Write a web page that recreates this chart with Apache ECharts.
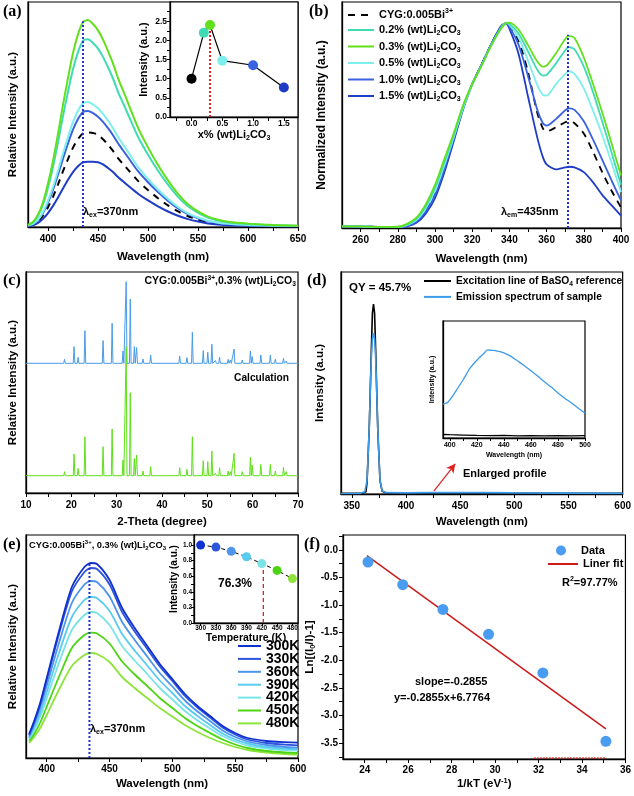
<!DOCTYPE html>
<html><head><meta charset="utf-8">
<script src="https://cdn.jsdelivr.net/npm/echarts@6/dist/echarts.min.js"></script>
<style>html,body{margin:0;padding:0;background:#fff}#c{width:634px;height:796px}</style>
</head><body><div id="c"></div>
<script>
// ---------- (a) emission vs Li2CO3 content ----------
const A_WL = [380,385,390,395,400,405,410,415,420,425,430,435,440,445,450,455,460,465,470,475,480,490,500,510,520,530,540,550,560,570,580,600,625,650];
const A_03 = [0.009,0.023,0.055,0.11,0.193,0.294,0.414,0.543,0.662,0.773,0.856,0.911,0.92,0.902,0.874,0.833,0.782,0.727,0.662,0.607,0.552,0.442,0.354,0.276,0.207,0.147,0.101,0.069,0.046,0.032,0.023,0.015,0.009,0.006];
const A_02 = [0.008,0.021,0.05,0.1,0.175,0.267,0.376,0.493,0.601,0.701,0.777,0.827,0.835,0.818,0.793,0.756,0.71,0.66,0.601,0.551,0.501,0.401,0.321,0.25,0.188,0.134,0.092,0.063,0.042,0.029,0.021,0.013,0.008,0.006];
const A_05 = [0.006,0.014,0.033,0.067,0.117,0.178,0.25,0.328,0.4,0.467,0.517,0.55,0.556,0.545,0.528,0.503,0.473,0.439,0.4,0.367,0.334,0.267,0.214,0.167,0.125,0.089,0.061,0.042,0.028,0.019,0.014,0.009,0.006,0.004];
const A_10 = [0.005,0.013,0.031,0.062,0.108,0.165,0.232,0.304,0.372,0.433,0.48,0.511,0.516,0.506,0.49,0.467,0.439,0.408,0.372,0.341,0.31,0.248,0.199,0.155,0.116,0.083,0.057,0.039,0.026,0.018,0.013,0.008,0.005,0.004];
const A_00 = [0.004,0.011,0.025,0.05,0.088,0.134,0.189,0.248,0.302,0.353,0.391,0.416,0.42,0.418,0.41,0.39,0.366,0.338,0.306,0.28,0.255,0.205,0.164,0.128,0.096,0.069,0.048,0.033,0.022,0.016,0.012,0.008,0.005,0.004];
const A_15 = [0.003,0.008,0.018,0.036,0.062,0.094,0.131,0.171,0.21,0.244,0.27,0.287,0.29,0.29,0.288,0.278,0.262,0.244,0.222,0.203,0.184,0.148,0.118,0.092,0.069,0.05,0.035,0.024,0.016,0.011,0.008,0.006,0.004,0.003];
const A_EX_LINE = [435, 0.915];
const A_IN_X = [0, 0.2, 0.3, 0.5, 1.0, 1.5];
const A_IN_Y = [1.0, 2.2, 2.4, 1.47, 1.35, 0.77];
const A_IN_OPT = [0.3, 2.4];

// ---------- (b) normalized excitation ----------
const B_WL = [250,260,270,280,285,290,295,300,305,310,315,320,325,330,335,338,340,345,350,355,358,360,365,370,372,375,380,385,390,395,400];
const B_00 = [0.008,0.007,0.005,0.004,0.01,0.035,0.09,0.17,0.29,0.435,0.58,0.70,0.795,0.89,0.975,0.998,0.985,0.91,0.76,0.56,0.485,0.47,0.49,0.515,0.52,0.51,0.46,0.37,0.27,0.18,0.10];
const B_02 = [0.008,0.008,0.005,0.005,0.017,0.045,0.105,0.195,0.32,0.45,0.59,0.70,0.79,0.885,0.965,0.998,0.995,0.945,0.86,0.77,0.742,0.745,0.80,0.865,0.88,0.87,0.785,0.66,0.515,0.365,0.21];
const B_03 = [0.008,0.008,0.005,0.006,0.02,0.05,0.115,0.21,0.335,0.46,0.595,0.70,0.79,0.885,0.965,0.995,1.0,0.965,0.89,0.81,0.785,0.79,0.85,0.92,0.935,0.925,0.83,0.70,0.56,0.41,0.255];
const B_05 = [0.008,0.007,0.005,0.005,0.014,0.038,0.095,0.18,0.305,0.44,0.58,0.695,0.79,0.885,0.965,1.0,0.99,0.925,0.815,0.695,0.648,0.645,0.70,0.75,0.763,0.75,0.68,0.57,0.45,0.315,0.175];
const B_10 = [0.008,0.007,0.005,0.004,0.01,0.03,0.08,0.16,0.285,0.43,0.58,0.70,0.795,0.89,0.975,0.997,0.98,0.89,0.74,0.575,0.51,0.498,0.53,0.573,0.582,0.575,0.52,0.43,0.33,0.23,0.134];
const B_15 = [0.008,0.007,0.005,0.004,0.008,0.025,0.07,0.145,0.27,0.42,0.575,0.70,0.795,0.89,0.975,0.997,0.97,0.845,0.64,0.44,0.345,0.31,0.285,0.295,0.298,0.295,0.272,0.222,0.16,0.11,0.06];
const B_EM_LINE = [371.5, 0.94];
const B_NAMES = ['CYG:0.005Bi3+','0.2% (wt)Li2CO3','0.3% (wt)Li2CO3','0.5% (wt)Li2CO3','1.0% (wt)Li2CO3','1.5% (wt)Li2CO3'];

// ---------- (c) XRD ----------
const C_POS  = [18.5,20.6,21.5,23.0,27.0,29.0,31.4,32.1,33.0,33.9,34.4,35.8,37.5,41.7,43.9,45.5,46.7,49.1,50.1,51.0,51.8,52.7,54.6,55.1,55.9,57.7,59.5,59.9,61.8,63.9,65.0,66.8,67.4,68.9];
const C_EXP  = [4,16.7,6,32.7,22.7,40,12.3,81.7,64.3,16.7,15.7,4.3,8.3,1.7,7.3,5.7,31,12.7,11,19,2.7,6,4,3.3,14.3,3.3,12.3,6.7,8.3,8.3,4,5,2.3,1.7];
const C_CALC = [4,21.7,7.3,39,29,46.7,15.7,129,83,17.3,20.7,4.7,9,1.3,8,6.3,39,15,14,24.7,2.3,8,4.7,4,22.3,4,18.3,10.7,11.3,11.3,4.7,8.3,4,1.7];
const C_OFFSET_EXP = 129.7, C_OFFSET_CALC = 17.3;

// ---------- (d) quantum yield ----------
const D_WL_EX = [340,360,363,364,366,367,368,369,370,371,372,373,374,376,378,382,600];
const D_EX    = [0.003,0.004,0.01,0.05,0.285,0.46,0.65,0.815,0.855,0.815,0.65,0.46,0.285,0.06,0.012,0.004,0.003];
const D_WL_EM = [340,358,362,364,366,367,368,369,370,371,372,373,374,376,378,382,400,420,440,470,500,600];
const D_EM    = [0.002,0.003,0.01,0.06,0.285,0.46,0.61,0.70,0.724,0.70,0.61,0.46,0.285,0.06,0.015,0.006,0.005,0.006,0.007,0.006,0.005,0.003];
const D_IN_WL = [395,398,400,405,410,415,420,425,428,430,435,440,445,450,455,460,465,470,475,480,485,490,495,500];
const D_IN_EM = [0.29,0.30,0.325,0.41,0.5,0.597,0.665,0.72,0.753,0.75,0.743,0.728,0.7,0.66,0.62,0.575,0.53,0.48,0.435,0.385,0.34,0.3,0.255,0.213];
const D_IN_EX_WL = [395,400,410,420,430,440,450,460,470,480,490,500];
const D_IN_EX = [0.03,0.028,0.025,0.022,0.02,0.022,0.018,0.02,0.018,0.02,0.018,0.02];
const D_ARROW = [[425.7,0.013],[445.5,0.136]];

// ---------- (e) temperature dependence ----------
const E_WL  = [386,390,395,400,410,420,430,435,440,450,460,470,480,490,500,510,520,530,540,550,560,575,590,600];
const E_300 = [24,37,56,80,128,171,191,195,194,178,150,130,112,94,79,64,52,42,32,25,20,17,15.8,15.3];
const E_330 = [23,36,54.5,78,125,166.5,186,190,189,173.5,146,126.5,109,91.5,77,62,50.5,40.5,30.5,23.5,18.5,15,13.3,12.7];
const E_360 = [21.5,33.5,51,72.5,116,155,173.5,177,176,161.5,136,118,101.5,85,71.5,57.5,46.5,37,27.5,21,16.5,13,11,10.3];
const E_390 = [20,30.5,46,66,106,141,158,161,160,147,124,107.5,92.5,77.5,65,52,42,33,24.5,18.5,14.5,11,9.3,8.7];
const E_420 = [19,28,42,60,96,128,143,146,145,133,112,97.5,84,70,58.5,47,37.5,29.5,22,16.5,12.5,9.5,8,7.7];
const E_450 = [17,24,36,51.5,82,110,123,125.3,124.5,114.5,96.5,83.5,72,60,50,40,32,25,18.5,13.5,10,7,5.5,5];
const E_480 = [15,21,30.5,43,69,92,103,105,104,96,81,70,60,50,41.5,33,26,20,15,11,8,5.5,4,3.3];
const E_EX_LINE = [434, 196];
const E_T = [300,330,360,390,420,450,480];
const E_I = [1.0,0.975,0.92,0.85,0.763,0.675,0.57];
const E_MARK = [423, 0.763];

// ---------- (f) Arrhenius fit ----------
const F_X = [24.15,25.75,27.6,29.7,32.2,35.1];
const F_Y = [-0.22,-0.63,-1.08,-1.53,-2.23,-3.47];
const FIT_X = [24.1,35.1];
const FIT_Y = [-0.105,-3.245];
const F_DROP_X = [31.8,35.1];
const F_DROP_Y = [-3.77,-3.77];

// ---------- tick label values ----------
const T = {
  aX:[400,450,500,550,600,650], aXt:[400,425,450,475,500,525,550,575,600,625,650],
  aiX:[0,0.5,1,1.5], aiXt:[-0.25,0,0.25,0.5,0.75,1,1.25,1.5], aiY:[0,0.5,1,1.5,2,2.5], aiYt:[0,0.25,0.5,0.75,1,1.25,1.5,1.75,2,2.25,2.5,2.75],
  bX:[260,280,300,320,340,360,380,400], bXt:[260,270,280,290,300,310,320,330,340,350,360,370,380,390,400],
  cX:[10,20,30,40,50,60,70], cXt:[10,15,20,25,30,35,40,45,50,55,60,65,70],
  dX:[350,400,450,500,550,600], dXt:[350,375,400,425,450,475,500,525,550,575,600],
  diX:[400,420,440,460,480,500], diXt:[400,410,420,430,440,450,460,470,480,490,500],
  eX:[400,450,500,550,600], eXt:[400,425,450,475,500,525,550,575,600],
  eiX:[300,330,360,390,420,450,480], eiY:[0,0.2,0.4,0.6,0.8,1.0], eiYt:[0,0.1,0.2,0.3,0.4,0.5,0.6,0.7,0.8,0.9,1.0],
  fX:[24,26,28,30,32,34,36], fXt:[24,25,26,27,28,29,30,31,32,33,34,35,36],
  fY:[0,-0.5,-1,-1.5,-2,-2.5,-3,-3.5], fYt:[0.25,0,-0.25,-0.5,-0.75,-1,-1.25,-1.5,-1.75,-2,-2.25,-2.5,-2.75,-3,-3.25,-3.5,-3.75]
};

// ---------- styling helpers ----------
const F = '"Liberation Sans", Arial, Helvetica, sans-serif';
const SERIF = '"Liberation Serif", "Times New Roman", serif';
function R(size, color){
  const c = color || '#000', ss = Math.round(size*0.64*10)/10;
  return {
    t:{fontFamily:F,fontWeight:'bold',fontSize:size,lineHeight:Math.round(size*1.25),color:c},
    s:{fontFamily:F,fontWeight:'bold',fontSize:ss,lineHeight:ss,verticalAlign:'bottom',color:c},
    p:{fontFamily:F,fontWeight:'bold',fontSize:ss,lineHeight:ss,verticalAlign:'top',color:c}
  };
}
const RN = {
  'CYG:0.005Bi3+':'{t|CYG:0.005Bi}{p|3+}',
  '0.2% (wt)Li2CO3':'{t|0.2% (wt)Li}{s|2}{t|CO}{s|3}',
  '0.3% (wt)Li2CO3':'{t|0.3% (wt)Li}{s|2}{t|CO}{s|3}',
  '0.5% (wt)Li2CO3':'{t|0.5% (wt)Li}{s|2}{t|CO}{s|3}',
  '1.0% (wt)Li2CO3':'{t|1.0% (wt)Li}{s|2}{t|CO}{s|3}',
  '1.5% (wt)Li2CO3':'{t|1.5% (wt)Li}{s|2}{t|CO}{s|3}',
  'Excitation line of BaSO4 reference':'{t|Excitation line of BaSO}{s|4}{t| reference}',
  'Emission spectrum of sample':'{t|Emission spectrum of sample}'
};
const fmtRN = n => RN[n] || ('{t|' + n + '}');

function grid(l,t,w,h,z){ return {left:l,top:t,width:w,height:h,show:true,borderColor:'#000',borderWidth:1.2,backgroundColor:'#fff',containLabel:false,z:z||0}; }
function ax(o){
  return {
    type:'value', gridIndex:o.g, min:o.min, max:o.max, position:o.pos, z:o.z||0,
    splitLine:{show:false},
    axisLine:{show:true,onZero:false,lineStyle:{color:'#000',width:1.3}},
    axisTick:{show:!!o.ticks,customValues:o.ticks,length:o.tl||4,inside:false,lineStyle:{color:'#000',width:1}},
    axisLabel:{show:!!o.labels,customValues:o.labels,fontFamily:F,fontWeight:'bold',fontSize:o.fs||10,color:'#000',margin:o.lm==null?6:o.lm,formatter:o.fmt||(v=>String(v))},
    name:o.name, nameLocation:'middle', nameGap:o.gap, nameTextStyle:{fontFamily:F,fontWeight:'bold',rich:R(o.ns||11.5)}
  };
}
const f1 = v => v.toFixed(1);
function pts(xs, ys){ return xs.map((x,i)=>[x,ys[i]]); }
function line(g, name, xs, ys, color, w, extra){
  return Object.assign({type:'line',name:name,xAxisIndex:g,yAxisIndex:g,data:pts(xs,ys),symbol:'none',smooth:0.25,
    lineStyle:{color:color,width:w},itemStyle:{color:color},silent:true,z:3}, extra||{});
}
function vline(g, p, color, type, w, z){
  return {type:'line',xAxisIndex:g,yAxisIndex:g,data:[[p[0],0],[p[0],p[1]]],symbol:'none',silent:true,z:z||4,
    lineStyle:{color:color,width:w||2,type:type}};
}
function peaks(pos, h, base){
  const d = [[10,base]];
  pos.forEach((p,i)=>{ d.push([p-0.18,base],[p,base+h[i]],[p+0.18,base]); });
  d.push([70,base]);
  return d;
}
function txt(x,y,text,size,align,color){
  return {type:'text',x:x,y:y,z:100,silent:true,style:{text:text,rich:R(size,color),align:align||'left',verticalAlign:'middle'}};
}
function plabel(x,y,t){
  return {type:'text',x:x,y:y,z:100,silent:true,style:{text:t,font:'bold 16px '+SERIF,fill:'#000',align:'left',verticalAlign:'middle'}};
}

// colours
const C = {k:'#000000', c02:'#3fdbb4', c03:'#62e01c', c05:'#7eefec', c10:'#3a62e0', c15:'#1f3cc6',
  xrdB:'#4a9be8', xrdG:'#5ee01a', qyB:'#3d9be9',
  t300:'#1030d0', t330:'#2d55dc', t360:'#4d94ec', t390:'#58cbf0', t420:'#7ae3e6', t450:'#4cd415', t480:'#8ee43a',
  fDot:'#4a9cf0', fLine:'#cc1a1a', red:'#e02020', dot:'#2233cc'};
const A_IN_COL = [C.k, C.c02, C.c03, C.c05, C.c10, C.c15];
const E_COL = [C.t300,C.t330,C.t360,C.t390,C.t420,C.t450,C.t480];

// grids: 0 a, 1 a-inset, 2 b, 3 c, 4 d, 5 d-inset, 6 e, 7 e-inset, 8 f
const grids = [
  grid(28,2,270,225), grid(170,2,128,115,1), grid(342,2,279,226),
  grid(26,272,272,221), grid(341,272,285,222), grid(443,321,142,117,1),
  grid(26,535,272,223), grid(194,535,104,88,1), grid(343,535,284,224)
];
const xAxis = [
  ax({g:0,min:380,max:650,labels:T.aX,ticks:T.aXt,lm:7,name:'{t|Wavelength (nm)}',gap:23}),
  ax({g:1,min:-0.35,max:1.73,labels:T.aiX,ticks:T.aiXt,fs:8.5,lm:2,fmt:f1,name:'{t|x% (wt)Li}{s|2}{t|CO}{s|3}',gap:11,ns:11,z:2}),
  ax({g:2,min:250,max:400,labels:T.bX,ticks:T.bXt,lm:7,name:'{t|Wavelength (nm)}',gap:24}),
  ax({g:3,min:10,max:70,labels:T.cX,ticks:T.cXt,lm:7,name:'{t|2-Theta (degree)}',gap:22}),
  ax({g:4,min:340,max:600,labels:T.dX,ticks:T.dXt,lm:7,name:'{t|Wavelength (nm)}',gap:21}),
  ax({g:5,min:395,max:500,labels:T.diX,ticks:T.diXt,fs:7,lm:4,tl:3,name:'{t|Wavelength (nm)}',gap:13,ns:7,z:2}),
  ax({g:6,min:383.5,max:600,labels:T.eX,ticks:T.eXt,lm:6,name:'{t|Wavelength (nm)}',gap:19}),
  ax({g:7,min:287,max:491,labels:T.eiX,ticks:T.eiX,fs:6.5,lm:1.5,tl:3,name:'{t|Temperature (K)}',gap:6,ns:10.5,z:2}),
  ax({g:8,min:23,max:36,labels:T.fX,ticks:T.fXt,lm:6,name:'{t|1/kT (eV}{p|-1}{t|)}',gap:18})
];
const yAxis = [
  ax({g:0,min:0,max:1,name:'{t|Relative Intensity (a.u.)}',gap:8}),
  ax({g:1,min:0,max:3,labels:T.aiY,ticks:T.aiYt,fs:8.5,lm:3,tl:3,fmt:f1,name:'{t|Intensity (a.u.)}',gap:19,ns:11,z:2}),
  ax({g:2,min:0,max:1.1,name:'{t|Normalized Intensity (a.u.)}',gap:13,ns:12}),
  ax({g:3,min:0,max:221,name:'{t|Relative Intensity (a.u.)}',gap:6}),
  ax({g:4,min:0,max:1,name:'{t|Intensity (a.u.)}',gap:14}),
  ax({g:5,min:0,max:1,name:'{t|Intensity (a.u.)}',gap:6,ns:7,z:2}),
  ax({g:6,min:0,max:223,name:'{t|Relative Intensity (a.u.)}',gap:6}),
  ax({g:7,min:0,max:1.13,labels:T.eiY,ticks:T.eiYt,fs:6.5,lm:2,tl:3,fmt:f1,name:'{t|Intensity (a.u.)}',gap:11,ns:10,z:2}),
  ax({g:8,min:-3.79,max:0.27,labels:T.fY,ticks:T.fYt,lm:5,fmt:f1,name:'{t|Ln[(I}{s|0}{t|/I)-1]}',gap:24})
];

const series = [
  // (a)
  line(0,'a00',A_WL,A_00,C.k,2,{lineStyle:{color:C.k,width:2,type:[7,6]}}),
  line(0,'a15',A_WL,A_15,C.c15,2),
  line(0,'a10',A_WL,A_10,C.c10,2),
  line(0,'a05',A_WL,A_05,C.c05,2),
  line(0,'a02',A_WL,A_02,C.c02,2),
  line(0,'a03',A_WL,A_03,C.c03,2),
  vline(0,A_EX_LINE,C.dot,'dotted',2),
  // (a) inset
  vline(1,A_IN_OPT,C.red,'dotted',2,5),
  {type:'line',xAxisIndex:1,yAxisIndex:1,silent:true,z:6,symbol:'circle',symbolSize:10,
   lineStyle:{color:'#000',width:1.2},itemStyle:{borderWidth:0},
   data:A_IN_X.map((x,i)=>({value:[x,A_IN_Y[i]],itemStyle:{color:A_IN_COL[i]}}))},
  // (b)
  line(2,B_NAMES[0],B_WL,B_00,C.k,1.8,{lineStyle:{color:C.k,width:1.8,type:[7,6]}}),
  line(2,B_NAMES[5],B_WL,B_15,C.c15,1.8),
  line(2,B_NAMES[4],B_WL,B_10,C.c10,1.8),
  line(2,B_NAMES[3],B_WL,B_05,C.c05,1.8),
  line(2,B_NAMES[1],B_WL,B_02,C.c02,1.8),
  line(2,B_NAMES[2],B_WL,B_03,C.c03,1.8),
  vline(2,B_EM_LINE,C.dot,'dotted',2),
  // (c)
  {type:'line',xAxisIndex:3,yAxisIndex:3,symbol:'none',silent:true,data:peaks(C_POS,C_EXP,C_OFFSET_EXP),lineStyle:{color:C.xrdB,width:1}},
  {type:'line',xAxisIndex:3,yAxisIndex:3,symbol:'none',silent:true,data:peaks(C_POS,C_CALC,C_OFFSET_CALC),lineStyle:{color:C.xrdG,width:1}},
  // (d)
  line(4,'Excitation line of BaSO4 reference',D_WL_EX,D_EX,C.k,1.6,{smooth:false,
    markLine:{silent:true,symbol:['none','arrow'],symbolSize:[7,9],label:{show:false},
      lineStyle:{color:C.red,width:1.2,type:'solid'},data:[[{coord:D_ARROW[0]},{coord:D_ARROW[1]}]]}}),
  line(4,'Emission spectrum of sample',D_WL_EM,D_EM,C.qyB,1.6,{smooth:false,z:4}),
  line(5,'din_ex',D_IN_EX_WL,D_IN_EX,C.k,1.3,{z:6,smooth:false}),
  line(5,'din_em',D_IN_WL,D_IN_EM,C.qyB,1.3,{z:6}),
  // (e)
  line(6,'480K',E_WL,E_480,C.t480,1.8),
  line(6,'450K',E_WL,E_450,C.t450,1.8),
  line(6,'420K',E_WL,E_420,C.t420,1.8),
  line(6,'390K',E_WL,E_390,C.t390,1.8),
  line(6,'360K',E_WL,E_360,C.t360,1.8),
  line(6,'330K',E_WL,E_330,C.t330,1.8),
  line(6,'300K',E_WL,E_300,C.t300,1.8),
  vline(6,E_EX_LINE,C.dot,'dotted',2),
  // (e) inset
  vline(7,E_MARK,C.red,[4,3],1.3,5),
  {type:'line',xAxisIndex:7,yAxisIndex:7,silent:true,z:6,symbol:'circle',symbolSize:9,
   lineStyle:{color:'#000',width:1,type:[4,3]},itemStyle:{borderWidth:0},
   data:E_T.map((x,i)=>({value:[x,E_I[i]],itemStyle:{color:E_COL[i]}}))},
  // (f)
  {type:'line',name:'Liner fit',xAxisIndex:8,yAxisIndex:8,symbol:'none',silent:true,z:3,
   data:pts(FIT_X,FIT_Y),lineStyle:{color:C.fLine,width:1.5},itemStyle:{color:C.fLine}},
  {type:'line',xAxisIndex:8,yAxisIndex:8,symbol:'none',silent:true,z:3,
   data:pts(F_DROP_X,F_DROP_Y),lineStyle:{color:C.red,width:1.5,type:'dotted'}},
  {type:'scatter',name:'Data',xAxisIndex:8,yAxisIndex:8,silent:true,z:4,symbolSize:11,
   data:pts(F_X,F_Y),itemStyle:{color:C.fDot,opacity:1}}
];

const noSym = {opacity:0};
const legend = [
  {data:B_NAMES,orient:'vertical',left:347,top:8,itemWidth:26,itemHeight:2,itemGap:4,padding:0,selectedMode:false,itemStyle:noSym,formatter:fmtRN,textStyle:{rich:R(11)}},
  {data:['Excitation line of BaSO4 reference','Emission spectrum of sample'],orient:'vertical',left:423,top:276,itemWidth:27,itemHeight:2,itemGap:4.4,padding:0,selectedMode:false,itemStyle:noSym,formatter:fmtRN,textStyle:{rich:R(10.3)}},
  {data:['300K','330K','360K','390K','420K','450K','480K'],orient:'vertical',left:237,top:639,itemWidth:23,itemHeight:2,itemGap:-1.1,padding:0,selectedMode:false,itemStyle:noSym,
   formatter:n=>'{t|'+n+'}',textStyle:{rich:{t:{fontFamily:F,fontWeight:'bold',fontSize:14,lineHeight:13,color:'#000'}}}},
  {data:['Data'],orient:'vertical',left:556,top:545,itemWidth:30,itemHeight:10,padding:0,selectedMode:false,formatter:fmtRN,textStyle:{rich:R(11)}},
  {data:['Liner fit'],orient:'vertical',left:547,top:558.5,itemWidth:30,itemHeight:2,padding:0,selectedMode:false,itemStyle:noSym,formatter:fmtRN,textStyle:{rich:R(11)}}
];

const graphic = [
  plabel(3,12,'(a)'), plabel(309,12,'(b)'), plabel(3,281,'(c)'), plabel(307,281,'(d)'), plabel(3,545,'(e)'), plabel(304,545,'(f)'),
  txt(83,212,'{t|λ}{s|ex}{t|=370nm}',11),
  txt(501,212,'{t|λ}{s|em}{t|=435nm}',11),
  txt(296,281,'{t|CYG:0.005Bi}{p|3+}{t|,0.3% (wt)Li}{s|2}{t|CO}{s|3}',10.5,'right'),
  txt(289,378,'{t|Calculation}',10.2,'right'),
  txt(349,288,'{t|QY = 45.7%}',11.5),
  txt(463,474,'{t|Enlarged profile}',11),
  txt(29,545,'{t|CYG:0.005Bi}{p|3+}{t|, 0.3% (wt)Li}{s|2}{t|CO}{s|3}',9.3),
  txt(90,729,'{t|λ}{s|ex}{t|=370nm}',11),
  txt(218,584,'{t|76.3%}',12,'left','#1c2466'),
  txt(562,583,'{t|R}{p|2}{t|=97.77%}',11),
  txt(415,682,'{t|slope=-0.2855}',11),
  txt(394,698,'{t|y=-0.2855x+6.7764}',11)
];

const chart = echarts.init(document.getElementById('c'), null, {renderer:'canvas'});
chart.setOption({animation:false, backgroundColor:'#fff', textStyle:{fontFamily:F},
  grid:grids, xAxis:xAxis, yAxis:yAxis, series:series, legend:legend, graphic:graphic});
</script></body></html>
